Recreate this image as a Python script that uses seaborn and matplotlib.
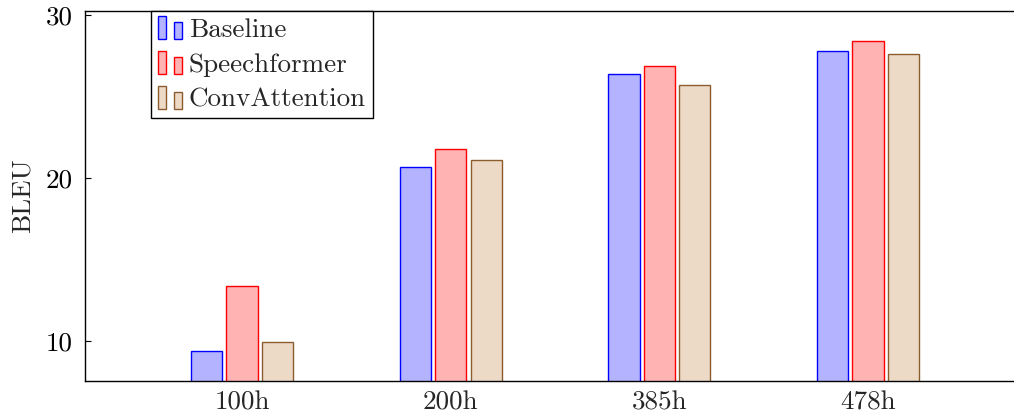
import matplotlib
matplotlib.use("Agg")
import matplotlib.pyplot as plt
import seaborn as sns
import pandas as pd
from matplotlib.patches import Rectangle, Patch
from matplotlib.legend_handler import HandlerBase

categories = ["100h", "200h", "385h", "478h"]
series_names = ["Baseline", "Speechformer", "ConvAttention"]
baseline = [9.4, 20.7, 26.4, 27.8]
speechformer = [13.4, 21.8, 26.9, 28.4]
convattention = [9.95, 21.1, 25.7, 27.6]
y_ticks = [10, 20, 30]

fills = {"Baseline": (0.7, 0.7, 1.0),
         "Speechformer": (1.0, 0.7, 0.7),
         "ConvAttention": (0.925, 0.85, 0.775)}
edges = {"Baseline": (0.0, 0.0, 1.0),
         "Speechformer": (1.0, 0.0, 0.0),
         "ConvAttention": (0.55, 0.36, 0.18)}

rows = []
for name, vals in zip(series_names, [baseline, speechformer, convattention]):
    for c, v in zip(categories, vals):
        rows.append({"cat": c, "series": name, "BLEU": v})
df = pd.DataFrame(rows)

sns.set_theme(style="white")
plt.rcParams["font.family"] = ["cmr10", "DejaVu Serif"]
plt.rcParams["mathtext.fontset"] = "cm"
plt.rcParams["axes.formatter.use_mathtext"] = True

FS = 19.5

fig = plt.figure(figsize=(10.14, 4.15), dpi=100)
ax = fig.add_axes([85 / 1014, 34 / 415, 934 / 1014, 370 / 415])

sns.barplot(data=df, x="cat", y="BLEU", hue="series", order=categories,
            hue_order=series_names, palette=fills, saturation=1,
            width=0.51, gap=0.12, ax=ax, legend=False, linewidth=1.0)

for cont, name in zip(ax.containers, series_names):
    for p in cont:
        p.set_edgecolor(edges[name])
        p.set_linewidth(1.0)

ax.set_xlim(-0.752, 3.723)
ax.set_ylim(7.55, 30.25)
ax.set_yticks(y_ticks)
ax.set_yticklabels([str(t) for t in y_ticks])
ax.set_xlabel("")
ax.set_ylabel("BLEU", fontsize=FS, labelpad=8)

ax.tick_params(axis="y", direction="in", length=4, width=0.8, pad=9,
               labelsize=FS, left=True, right=False, colors="black")
ax.tick_params(axis="x", length=0, pad=7, labelsize=FS, bottom=False)

for side in ["left", "bottom", "top"]:
    ax.spines[side].set_visible(True)
    ax.spines[side].set_color("black")
    ax.spines[side].set_linewidth(1.0)
ax.spines["right"].set_visible(False)


class HandlerTwoBars(HandlerBase):
    def create_artists(self, legend, orig_handle, xdescent, ydescent,
                       width, height, fontsize, trans):
        fc = orig_handle.get_facecolor()
        ec = orig_handle.get_edgecolor()
        w = width * 0.32
        y0 = -ydescent - height * 0.12
        r1 = Rectangle((-xdescent, y0), w, height * 1.2,
                       facecolor=fc, edgecolor=ec, linewidth=1.0, transform=trans)
        r2 = Rectangle((-xdescent + width * 0.66, y0), w, height * 0.9,
                       facecolor=fc, edgecolor=ec, linewidth=1.0, transform=trans)
        return [r1, r2]


handles = [Patch(facecolor=fills[n], edgecolor=edges[n]) for n in series_names]
leg = ax.legend(handles, series_names, handler_map={Patch: HandlerTwoBars()},
                loc="upper left", bbox_to_anchor=((151 - 85) / 934, 1.0),
                borderaxespad=0, fontsize=FS, frameon=True, fancybox=False,
                edgecolor="black", framealpha=1, handlelength=0.9,
                handletextpad=0.25, labelspacing=0.4, borderpad=0.25)
leg.get_frame().set_linewidth(1.0)

fig.savefig("out.png", dpi=100)
